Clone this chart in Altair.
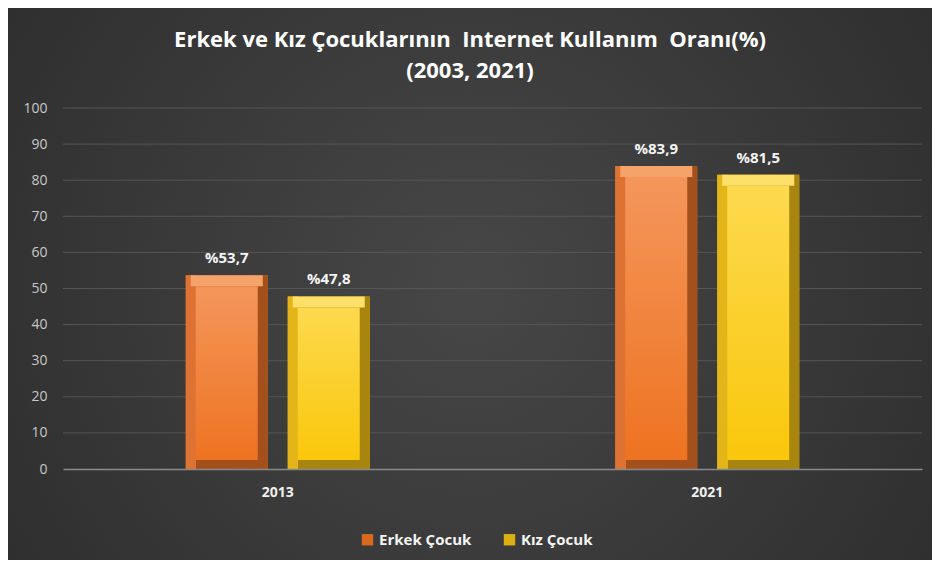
import altair as alt
import pandas as pd

years = ["2013", "2021"]
groups = ["Erkek Çocuk", "Kız Çocuk"]
erkek = [53.7, 83.9]
kiz = [47.8, 81.5]
y_ticks = [0, 10, 20, 30, 40, 50, 60, 70, 80, 90, 100]
title_lines = ["Erkek ve Kız Çocuklarının\u00a0 Internet Kullanım\u00a0 Oranı(%)", "(2003, 2021)"]

rows = []
for i, yr in enumerate(years):
    rows.append({"yil": yr, "grup": groups[0], "deger": erkek[i]})
    rows.append({"yil": yr, "grup": groups[1], "deger": kiz[i]})
df = pd.DataFrame(rows)
df["etiket"] = df["deger"].map(lambda v: "%" + f"{v:.1f}".replace(".", ","))

W, H = 859, 361
PL, PT, PR, PB = 55, 100, 10, 91

x_enc = alt.X("yil:N", scale=alt.Scale(paddingInner=0.5716, paddingOuter=0.2858),
              axis=alt.Axis(title=None, labelAngle=0, labelColor="#f0f0f0",
                            labelFontSize=14, labelFont="Open Sans", labelFontWeight="bold",
                            labelPadding=16, ticks=False, domainColor="#8a8a8a",
                            domainWidth=1.5, grid=False, zindex=2))
xo_enc = alt.XOffset("grup:N", scale=alt.Scale(domain=groups, paddingInner=0.196, paddingOuter=0))
y_scale = alt.Scale(domain=[0, 100], nice=False)
y_axis = alt.Axis(title=None, values=y_ticks, labelColor="#c8c8c8",
                  labelFontSize=14, labelFont="Open Sans", labelPadding=16,
                  labelOverlap=False, ticks=False, domain=False, grid=False, zindex=2)
y_enc = alt.Y("deger:Q", scale=y_scale, axis=y_axis)

bg = alt.Chart(pd.DataFrame({"a": [0]})).mark_rect(
    fill={"gradient": "radial", "x1": 0.5, "y1": 0.5, "r1": 0.0,
          "x2": 0.5, "y2": 0.5, "r2": 0.75,
          "stops": [{"offset": 0, "color": "#474747"}, {"offset": 1, "color": "#282828"}]}
).encode(x=alt.value(-PL), x2=alt.value(W + PR), y=alt.value(-PT), y2=alt.value(H + PB))

grid = alt.Chart(pd.DataFrame({"v": y_ticks[1:]})).mark_rule(color="#555555", strokeWidth=1).encode(
    y=alt.Y("v:Q", scale=y_scale, axis=y_axis)
)

base = alt.Chart(df)

legend_layer = base.mark_bar().encode(
    x=x_enc, xOffset=xo_enc, y=y_enc,
    color=alt.Color("grup:N", scale=alt.Scale(domain=groups, range=["#d8691f", "#dcb012"]),
                    legend=alt.Legend(title=None, orient="none", legendX=297, legendY=424,
                                      direction="horizontal", symbolType="square",
                                      symbolSize=130, symbolStrokeWidth=0,
                                      labelColor="#f4f4f4", labelFontSize=15,
                                      labelFont="Open Sans", labelFontWeight="bold",
                                      columnPadding=30, zindex=2))
)

palette = {
    groups[0]: {"dark": "#a4501c", "left": "#de7232", "top": "#f6a36b",
                "face_top": "#f4965b", "face_bottom": "#ee7321"},
    groups[1]: {"dark": "#a8850f", "left": "#e3b518", "top": "#fde06a",
                "face_top": "#fdd94e", "face_bottom": "#f9c70b"},
}

def bevel_bar(g):
    c = palette[g]
    b = base.transform_filter(alt.datum.grup == g)
    outer = b.mark_bar(
        fill={"gradient": "linear", "x1": 0, "y1": 0, "x2": 1, "y2": 0,
              "stops": [{"offset": 0, "color": c["left"]}, {"offset": 0.125, "color": c["left"]},
                        {"offset": 0.126, "color": c["dark"]}, {"offset": 1, "color": c["dark"]}]}
    ).encode(x=x_enc, xOffset=xo_enc, y=y_enc)
    top = b.mark_bar(color=c["top"], width=72, y2Offset=11).encode(
        x=x_enc, xOffset=xo_enc, y=y_enc, y2=alt.Y2("deger:Q"))
    face = b.mark_bar(
        width=62, yOffset=11, y2Offset=-9,
        fill={"gradient": "linear", "x1": 0, "y1": 0, "x2": 0, "y2": 1,
              "stops": [{"offset": 0, "color": c["face_top"]}, {"offset": 1, "color": c["face_bottom"]}]}
    ).encode(x=x_enc, xOffset=xo_enc, y=y_enc, y2=alt.Y2(datum=0))
    return [outer, top, face]

labels = base.mark_text(color="#f4f4f4", fontSize=15, fontWeight="bold", font="Open Sans",
                        baseline="bottom", dy=-9).encode(
    x=x_enc, xOffset=xo_enc, y=y_enc, text="etiket:N"
)

title_df = pd.DataFrame({"t": title_lines, "i": [0, 1]})
TX = 470 - 8 - PL
title1 = alt.Chart(title_df).transform_filter(alt.datum.i == 0).mark_text(
    color="#ffffff", fontSize=22, font="Open Sans", fontWeight="bold", baseline="middle", align="center"
).encode(text="t:N", x=alt.value(TX), y=alt.value(-68))
title2 = alt.Chart(title_df).transform_filter(alt.datum.i == 1).mark_text(
    color="#ffffff", fontSize=22, font="Open Sans", fontWeight="bold", baseline="middle", align="center"
).encode(text="t:N", x=alt.value(TX), y=alt.value(-37))

layers = [bg, grid, legend_layer] + bevel_bar(groups[0]) + bevel_bar(groups[1]) + [labels, title1, title2]

chart = alt.layer(*layers).properties(
    width=W, height=H,
    autosize=alt.AutoSizeParams(type="none"),
    padding={"left": PL, "top": PT, "right": PR, "bottom": PB},
    background="#2e2e2e",
).configure_view(stroke=None)

chart.save("out.html", embed_options={"renderer": "svg", "actions": False})
